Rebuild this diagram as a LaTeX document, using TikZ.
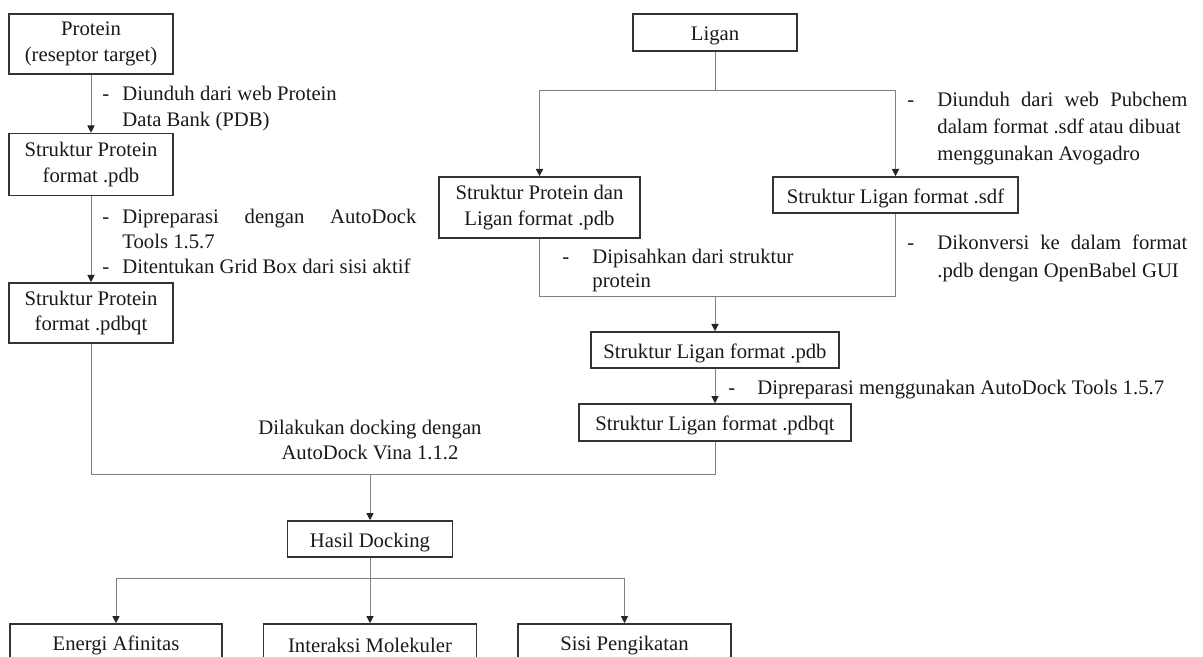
\documentclass[tikz,border=0pt]{standalone}
\usepackage{fontspec}
\setmainfont{Liberation Serif}
\usetikzlibrary{arrows.meta}

\newcommand{\boxfont}{\fontsize{10.35}{12.8}\selectfont}
\newcommand{\notefont}{\fontsize{10.35}{13}\selectfont}
\newcommand{\dashitem}[2]{\hangindent=#1\hangafter=1\makebox[#1][l]{-}#2\par}

\begin{document}
\begin{tikzpicture}[x=0.5pt, y=-0.5pt,
   box/.style={draw=black!80, line width=0.8pt, rectangle, inner sep=0pt, align=center, text=black!90, font=\boxfont, execute at begin node={\rule{0pt}{10.5pt}}},
   note/.style={inner sep=0pt, anchor=west, align=justify, text=black!90, font=\notefont},
   line/.style={draw=black!50, line width=0.5pt},
   arrow/.style={line, -{Triangle[length=3.6pt, width=3.6pt, color=black!85]}}
]
\useasboundingbox (0,0) rectangle (1203,657);

% Protein side
\node [box, minimum width=82pt, minimum height=30pt] (protein) at (91,44) {Protein\\(reseptor target)};
\node [box, minimum width=82pt, minimum height=31pt] (protpdb) at (91,164.5) {Struktur Protein\\format .pdb};
\node [box, minimum width=82pt, minimum height=30pt] (protpdbqt) at (91,313) {Struktur Protein\\format .pdbqt};

% Ligand side
\node [box, minimum width=82pt, minimum height=18.5pt] (ligan) at (715,32.5) {Ligan};
\node [box, minimum width=100.5pt, minimum height=30.5pt] (complexpdb) at (539.5,207.5) {Struktur Protein dan\\Ligan format .pdb};
\node [box, minimum width=122.5pt, minimum height=18pt] (ligsdf) at (895.5,195) {Struktur Ligan format .sdf};
\node [box, minimum width=124pt, minimum height=18pt] (ligpdb) at (715,350) {Struktur Ligan format .pdb};
\node [box, minimum width=136pt, minimum height=18.5pt] (ligpdbqt) at (715,422.5) {Struktur Ligan format .pdbqt};

% Docking results
\node [box, minimum width=82.5pt, minimum height=18pt] (hasil) at (370,539) {Hasil Docking};
\node [box, minimum width=106pt, minimum height=18pt] (energi) at (116,642) {Energi Afinitas};
\node [box, minimum width=106.5pt, minimum height=18pt] (interaksi) at (370,642) {Interaksi Molekuler};
\node [box, minimum width=106.5pt, minimum height=18pt] (sisi) at (624.5,642) {Sisi Pengikatan};

% Notes
\node [note, text width=157pt] (protnote) at (102,109) {\dashitem{10pt}{Diunduh dari web Protein\newline Data Bank (PDB)}};
\node [note, text width=157pt, font=\fontsize{10.35}{12.5}\selectfont] (prepnote) at (102,241.5) {\dashitem{10pt}{Dipreparasi dengan AutoDock\linebreak Tools 1.5.7}\dashitem{10pt}{Ditentukan Grid Box dari sisi aktif}};
\node [note, text width=140pt, font=\fontsize{10.35}{13.5}\selectfont] (pubnote) at (907,128.5) {\dashitem{15pt}{Diunduh dari web Pubchem\linebreak dalam format .sdf atau dibuat\newline menggunakan Avogadro}};
\node [note, text width=140pt, font=\fontsize{10.35}{14}\selectfont] (convnote) at (907,258.5) {\dashitem{15pt}{Dikonversi ke dalam format\linebreak .pdb dengan OpenBabel GUI}};
\node [note, text width=120pt, font=\fontsize{10.35}{12}\selectfont] (splitnote) at (562,270.5) {\dashitem{15pt}{Dipisahkan dari struktur\newline protein}};
\node [note, text width=225pt] (lignote) at (728,390) {\dashitem{14.5pt}{Dipreparasi menggunakan AutoDock Tools 1.5.7}};
\node [inner sep=0pt, align=center, text=black!90, font=\fontsize{10.35}{12.5}\selectfont] (docknote) at (370,440) {Dilakukan docking dengan\\AutoDock Vina 1.1.2};

% Junctions
\coordinate (ligsplit) at (715,91);
\coordinate (ligjoin) at (715,297);
\coordinate (dockjoin) at (370,474);
\coordinate (ressplit) at (370,578);

% Connections
\draw [arrow] (protein) -- (protpdb);
\draw [arrow] (protpdb) -- (protpdbqt);
\draw [line] (ligan) -- (ligsplit);
\draw [arrow] (ligsplit) -| (complexpdb);
\draw [arrow] (ligsplit) -| (ligsdf);
\draw [line] (complexpdb) |- (ligjoin);
\draw [line] (ligsdf) |- (ligjoin);
\draw [arrow] (ligjoin) -- (ligpdb);
\draw [arrow] (ligpdb) -- (ligpdbqt);
\draw [line] (protpdbqt) |- (dockjoin);
\draw [line] (ligpdbqt) |- (dockjoin);
\draw [arrow] (dockjoin) -- (hasil);
\draw [line] (hasil) -- (ressplit);
\draw [arrow] (ressplit) -| (energi);
\draw [arrow] (ressplit) -- (interaksi);
\draw [arrow] (ressplit) -| (sisi);

\end{tikzpicture}
\end{document}
